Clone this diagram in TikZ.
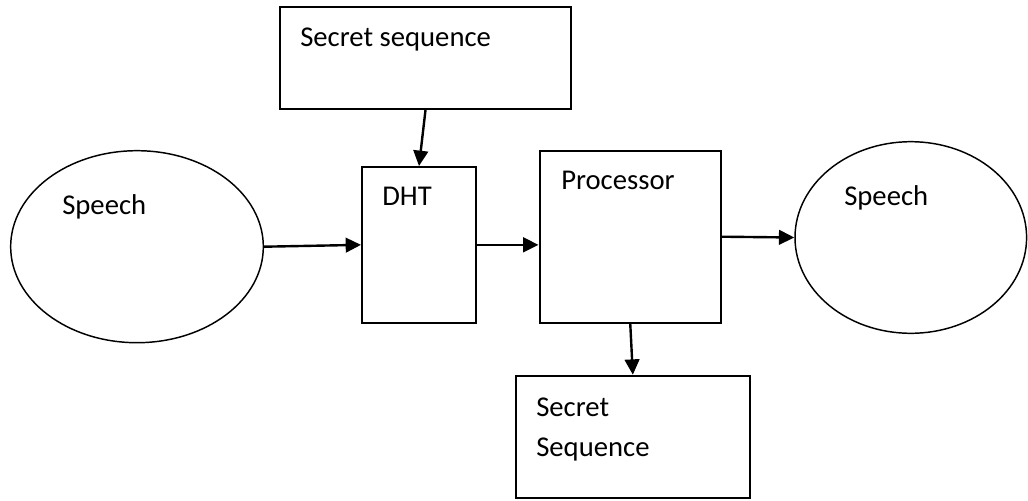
\documentclass[tikz,border=0pt]{standalone}
\usepackage{fontspec}
\setmainfont{Carlito}
\usetikzlibrary{arrows.meta,shapes.geometric}

\tikzset{
  blk/.style={draw, line width=1.5pt, inner sep=0pt},
  oval/.style={draw, ellipse, line width=1.1pt, inner sep=0pt},
  lbl/.style={anchor=base west, inner sep=0pt, font=\fontsize{21.5}{30}\selectfont},
  arr/.style={line width=1.8pt, -{Triangle[length=11.5pt,width=11pt]}}
}

\begin{document}
\begin{tikzpicture}[x=0.75pt, y=-0.75pt]
  \fill[white] (0,0) rectangle (1028,500);
  \useasboundingbox (0,0) rectangle (1028,500);

  %%%%% BLOCKS %%%%%
  \node[blk, minimum width=218.25pt, minimum height=76.5pt] (seqtop) at (425.5,58) {};
  \node[oval, minimum width=189.5pt, minimum height=144pt] (spin) at (137,246.7) {};
  \node[blk, minimum width=85.5pt, minimum height=116.8pt] (dht) at (419,244.85) {};
  \node[blk, minimum width=136.1pt, minimum height=129pt] (proc) at (630.25,236.7) {};
  \node[oval, minimum width=173.7pt, minimum height=143.7pt] (spout) at (910.8,237.5) {};
  \node[blk, minimum width=175.7pt, minimum height=91.7pt] (seqbot) at (632.85,436.85) {};

  %%%%% LABELS %%%%%
  \node[lbl] (seqtopT) at (300,46) {Secret sequence};
  \node[lbl] (spinT) at (62,214) {Speech};
  \node[lbl] (dhtT) at (382,205.7) {DHT};
  \node[lbl] (procT) at (561,189.3) {Processor};
  \node[lbl] (spoutT) at (844,205) {Speech};
  \node[lbl] (seqbotA) at (536,416) {Secret};
  \node[lbl] (seqbotB) at (536,456.7) {Sequence};

  %%%%% ARROWS %%%%%
  \draw[arr] (seqtop.south) -- (dht.north);
  \draw[arr] (spin.east) -- (dht.west);
  \draw[arr] (dht.east) -- (dht.east -| proc.west);
  \draw[arr] (proc.east) -- (spout.west);
  \draw[arr] (proc.south) -- (seqbot.north);
\end{tikzpicture}
\end{document}
